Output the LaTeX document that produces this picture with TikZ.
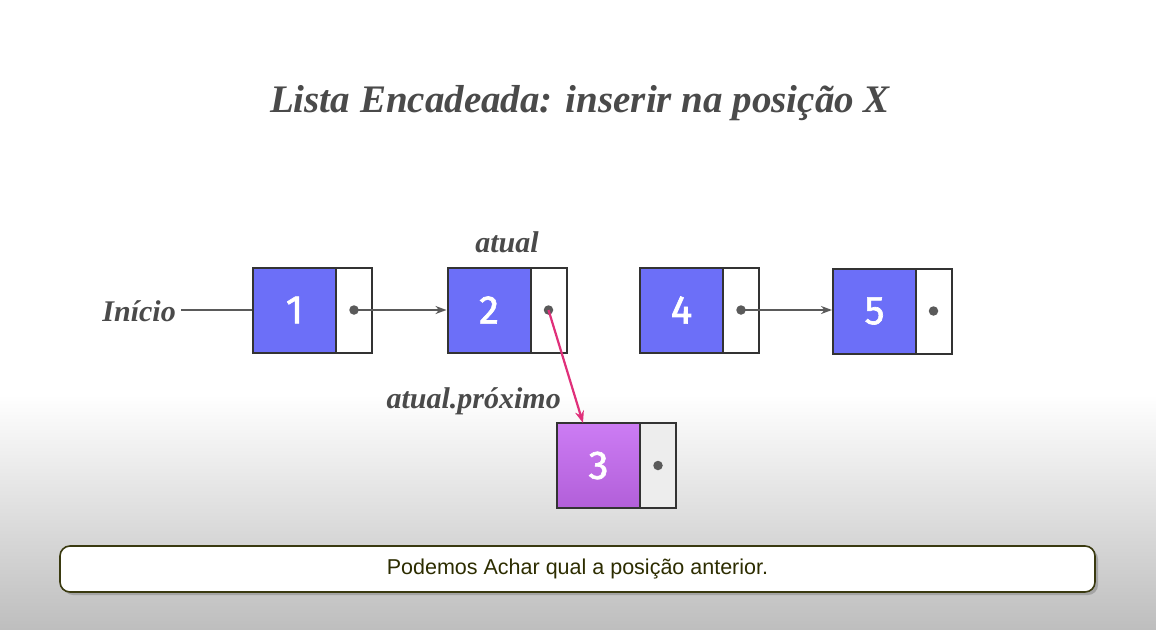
\documentclass[tikz,border=0pt]{standalone}
\usepackage{fontspec}
\setmainfont{Liberation Serif}
\newfontfamily\numfont[FakeBold=1.6]{Fira Sans}
\newfontfamily\capfont{Liberation Sans}
\usetikzlibrary{arrows.meta,shadows}
\definecolor{titlegray}{HTML}{4A4A4A}
\definecolor{nodeblue}{HTML}{6C6FF8}
\definecolor{purpletop}{HTML}{CC7CF4}
\definecolor{purplebot}{HTML}{B25FD9}
\definecolor{edgegray}{HTML}{333333}
\definecolor{arrowgray}{HTML}{5A5A5A}
\definecolor{linkpink}{HTML}{E0307A}
\definecolor{bgbot}{HTML}{BEBEBE}
\definecolor{capborder}{HTML}{3A3A10}
\definecolor{captext}{HTML}{2D2D00}
\tikzset{
  databox/.style={draw=edgegray,line width=2pt,fill=nodeblue,minimum width=83pt,minimum height=85pt,inner sep=0pt,text=white,font=\numfont\fontsize{40}{40}\selectfont},
  ptrbox/.style={draw=edgegray,line width=2pt,fill=white,minimum width=36pt,minimum height=85pt,inner sep=0pt},
  dotmark/.style={circle,fill=arrowgray,minimum size=9.5pt,inner sep=0pt},
  linkarrow/.style={draw=arrowgray,line width=2.2pt,-{Stealth[length=11pt,width=8pt]}},
  label/.style={text=titlegray,font=\bfseries\itshape\fontsize{30}{30}\selectfont,inner sep=0pt}
}
\begin{document}
\begin{tikzpicture}[x=1pt,y=-1pt]
\useasboundingbox (0,0) rectangle (1156,629);
\fill[white] (0,0) rectangle (1156,396);
\shade[top color=white,bottom color=bgbot] (0,395) rectangle (1156,629);

\node[text=titlegray,font=\bfseries\itshape\fontsize{39}{39}\selectfont] (title) at (580,103) {Lista Encadeada: inserir na posição X};

% node 1
\node[databox] (n1) at (294.5,310) {1};
\node[ptrbox] (p1) at (354,310) {};
\node[dotmark] (d1) at (p1.center) {};
% node 2
\node[databox] (n2) at (489,310) {2};
\node[ptrbox] (p2) at (548.5,310) {};
\node[dotmark] (d2) at (p2.center) {};
% node 4
\node[databox] (n4) at (681.5,310) {4};
\node[ptrbox] (p4) at (741,310) {};
\node[dotmark] (d4) at (p4.center) {};
% node 5
\node[databox] (n5) at (874.5,311) {5};
\node[ptrbox] (p5) at (933.5,311) {};
\node[dotmark] (d5) at (p5.center) {};
% node 3
\node[databox,top color=purpletop,bottom color=purplebot] (n3) at (598.5,465.5) {3};
\node[ptrbox,fill=black!7] (p3) at (658,465.5) {};
\node[dotmark] (d3) at (p3.center) {};

% labels
\node[label,anchor=east] (inicio) at (176,311) {Início};
\node[label] (atual) at (507,242) {atual};
\node[label,anchor=east] (prox) at (561,401) {atual.próximo};

% connectors
\coordinate (istart) at (181,310);
\draw[arrowgray,line width=2.2pt] (istart) -- (n1.west);
\draw[linkarrow] (d1.center) -- (n2.west);
\draw[linkarrow] (d4.center) -- (n5.west |- d4.center);
\coordinate (t3) at (583,423);
\draw[draw=linkpink,line width=2.2pt,-{Stealth[length=12pt,width=9pt]}] (d2.center) -- (t3);

% caption
\node[draw=capborder,line width=1.6pt,fill=white,rounded corners=10pt,minimum width=1035pt,minimum height=46pt,
  drop shadow={shadow xshift=3pt,shadow yshift=-3pt,fill=black!45,opacity=0.6},
  text=captext,font=\capfont\fontsize{21.5}{21.5}\selectfont] (cap) at (577.5,569) {Podemos Achar qual a posição anterior.};
\end{tikzpicture}
\end{document}
